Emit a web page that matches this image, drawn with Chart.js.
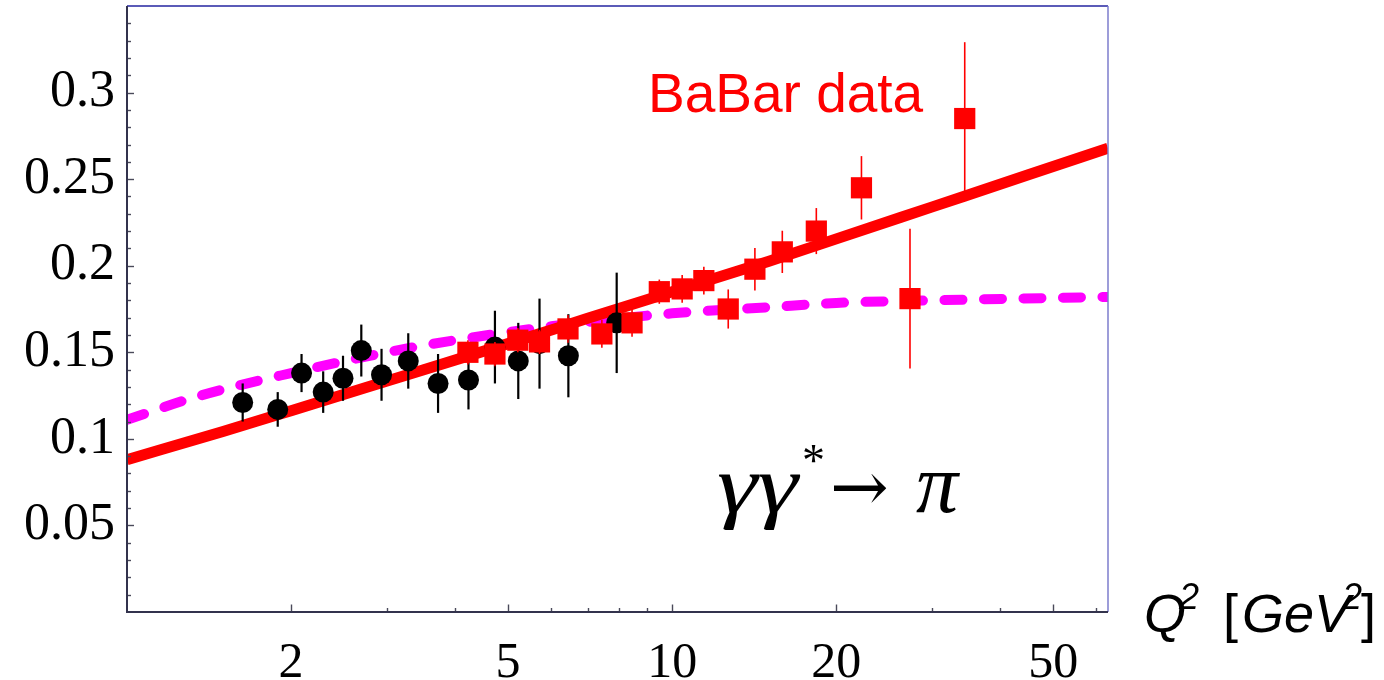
<!DOCTYPE html>
<html>
<head>
<meta charset="utf-8">
<script src="https://cdn.jsdelivr.net/npm/chart.js@4.4.1/dist/chart.umd.min.js"></script>
<style>
  html, body { margin: 0; padding: 0; background: #fff; }
  #wrap { width: 1384px; height: 680px; }
</style>
</head>
<body>
<div id="wrap"><canvas id="grafico" width="1384" height="680"></canvas></div>
<script>
/* ============================
   DATI
============================ */

// CLEO (cerchi neri)
const cleoQ2  = [1.63, 1.89, 2.09, 2.29, 2.49, 2.69, 2.93, 3.28, 3.72, 4.23, 4.73, 5.22, 5.71, 6.45, 7.91];
const cleoVal = [0.121, 0.117, 0.138, 0.127, 0.135, 0.151, 0.137, 0.145, 0.132, 0.134, 0.153, 0.145, 0.155, 0.148, 0.167];
const cleoErr = [0.011, 0.010, 0.011, 0.012, 0.013, 0.015, 0.015, 0.016, 0.017, 0.017, 0.021, 0.022, 0.026, 0.024, 0.029];

// BaBar (quadrati rossi)
const babarQ2  = [4.22, 4.73, 5.21, 5.71, 6.44, 7.43, 8.44, 9.47, 10.43, 11.43, 12.67, 14.18, 15.92, 18.38, 22.24, 27.3, 34.4];
const babarVal = [0.150, 0.149, 0.157, 0.156, 0.1635, 0.1606, 0.167, 0.185, 0.1866, 0.1914, 0.175, 0.198, 0.208, 0.220, 0.245, 0.181, 0.285];
const babarErr = [0.007, 0.007, 0.007, 0.007, 0.008, 0.008, 0.008, 0.007, 0.008, 0.008, 0.0113, 0.0123, 0.0122, 0.0133, 0.0183, 0.0404, 0.0441];

// curva continua rossa
const curvaQ2  = [1, 1.5, 2, 3, 5, 7, 10, 15, 20, 30, 45, 63];
const curvaVal = [0.088, 0.1043, 0.1163, 0.1334, 0.155, 0.1696, 0.185, 0.2025, 0.2155, 0.234, 0.2525, 0.2678];

// curva tratteggiata magenta
const trattQ2  = [1, 1.35, 2, 3, 4, 6, 10, 15, 20, 30, 63];
const trattVal = [0.111, 0.1246, 0.138, 0.150, 0.157, 0.165, 0.1725, 0.176, 0.1785, 0.180, 0.182];

// assi
const xTickMaggiori = [2, 5, 10, 20, 50];
const xTickMinori = [3, 4, 6, 7, 8, 9, 30, 40, 60];
const yTickEtichette = [0.05, 0.1, 0.15, 0.2, 0.25, 0.3];

const punti = (xs, ys) => xs.map((x, i) => ({ x, y: ys[i] }));

const erroriPerSerie = {
  'BaBar': { xs: babarQ2, ys: babarVal, err: babarErr, colore: '#ff0000', spessore: 1.6 },
  'CLEO': { xs: cleoQ2, ys: cleoVal, err: cleoErr, colore: '#000000', spessore: 2.2 }
};

/* ============================
   PLUGIN
============================ */

// barre d'errore, disegnate subito prima dei marker della serie
const barreErrore = {
  id: 'barreErrore',
  beforeDatasetDraw(chart, args) {
    const ds = chart.data.datasets[args.index];
    const e = erroriPerSerie[ds.label];
    if (!e) return;
    const { ctx, scales: { x, y }, chartArea } = chart;
    ctx.save();
    ctx.beginPath();
    ctx.rect(chartArea.left, chartArea.top, chartArea.right - chartArea.left, chartArea.bottom - chartArea.top);
    ctx.clip();
    ctx.strokeStyle = e.colore;
    ctx.lineWidth = e.spessore;
    e.xs.forEach((q, i) => {
      const px = x.getPixelForValue(q);
      ctx.beginPath();
      ctx.moveTo(px, y.getPixelForValue(e.ys[i] - e.err[i]));
      ctx.lineTo(px, y.getPixelForValue(e.ys[i] + e.err[i]));
      ctx.stroke();
    });
    ctx.restore();
  }
};

// cornice e tacche interne
const cornice = {
  id: 'cornice',
  afterDraw(chart) {
    const { ctx, chartArea: a, scales: { x, y } } = chart;
    ctx.save();
    // tacche
    ctx.strokeStyle = '#4a4a5a';
    ctx.lineWidth = 1.4;
    for (let i = 1; i <= 34; i++) {
      const py = Math.round(y.getPixelForValue(i / 100)) + 0.5;
      const len = i % 5 === 0 ? 7 : 4;
      ctx.beginPath();
      ctx.moveTo(a.left, py);
      ctx.lineTo(a.left + len, py);
      ctx.stroke();
    }
    xTickMaggiori.concat(xTickMinori).forEach(v => {
      const px = Math.round(x.getPixelForValue(v)) + 0.5;
      const len = xTickMaggiori.includes(v) ? 7.5 : 4;
      ctx.beginPath();
      ctx.moveTo(px, a.bottom);
      ctx.lineTo(px, a.bottom - len);
      ctx.stroke();
    });
    // bordi
    ctx.lineWidth = 1.5;
    ctx.strokeStyle = '#2424a0';
    ctx.beginPath(); ctx.moveTo(a.left, a.top); ctx.lineTo(a.right, a.top); ctx.stroke();
    ctx.strokeStyle = '#7d7dcc';
    ctx.beginPath(); ctx.moveTo(a.right, a.top); ctx.lineTo(a.right, a.bottom); ctx.stroke();
    ctx.lineWidth = 2;
    ctx.strokeStyle = '#33334d';
    ctx.beginPath();
    ctx.moveTo(a.left, a.top);
    ctx.lineTo(a.left, a.bottom);
    ctx.lineTo(a.right, a.bottom);
    ctx.stroke();
    ctx.restore();
  }
};

// scritte: BaBar data, reazione, titolo asse x
const scritte = {
  id: 'scritte',
  afterDraw(chart) {
    const ctx = chart.ctx;
    ctx.save();
    ctx.textBaseline = 'alphabetic';
    ctx.textAlign = 'left';

    ctx.fillStyle = '#ff0000';
    ctx.font = '55px "Liberation Sans", Arial, sans-serif';
    ctx.fillText('BaBar data', 648, 112);

    ctx.fillStyle = '#000';
    ctx.font = 'italic 82px "Liberation Serif", "Times New Roman", serif';
    ctx.save();
    ctx.translate(717, 512);
    ctx.scale(1.25, 1);
    ctx.fillText('γγ', 0, 0);
    ctx.restore();
    ctx.font = '46px "Liberation Serif", serif';
    ctx.fillText('*', 802, 476);
    ctx.font = '70px "DejaVu Serif", "Liberation Serif", serif';
    ctx.fillText('→', 830, 511);
    ctx.font = 'italic 84px "Liberation Serif", "Times New Roman", serif';
    ctx.fillText('π', 916, 512);

    const it = 'italic 54px "Liberation Sans", Arial, sans-serif';
    const sup = 'italic 36px "Liberation Sans", Arial, sans-serif';
    ctx.font = it;
    ctx.fillText('Q', 1144, 632);
    ctx.font = sup;
    ctx.fillText('2', 1179, 609);
    ctx.font = '54px "Liberation Sans", Arial, sans-serif';
    ctx.fillText('[', 1223, 632);
    ctx.font = it;
    ctx.fillText('GeV', 1242, 632);
    ctx.font = sup;
    ctx.fillText('2', 1342, 609);
    ctx.font = '54px "Liberation Sans", Arial, sans-serif';
    ctx.fillText(']', 1361, 632);
    ctx.restore();
  }
};

/* ============================
   GRAFICO
============================ */

const fontTickY = { family: '"Liberation Serif", "Times New Roman", serif', size: 52 };
const fontTickX = { family: '"Liberation Serif", "Times New Roman", serif', size: 50 };

const senzaPadding = s => {
  s.paddingTop = 0;
  s.paddingBottom = 0;
  s.paddingLeft = 0;
  s.paddingRight = 0;
};

new Chart(document.getElementById('grafico'), {
  type: 'scatter',
  data: {
    datasets: [
      {
        label: 'BaBar',
        data: punti(babarQ2, babarVal),
        pointStyle: 'rect',
        pointRadius: 15,
        backgroundColor: '#ff0000',
        borderWidth: 0
      },
      {
        label: 'CLEO',
        data: punti(cleoQ2, cleoVal),
        pointStyle: 'circle',
        pointRadius: 10.5,
        backgroundColor: '#000000',
        borderWidth: 0
      },
      {
        label: 'curva',
        type: 'line',
        data: punti(curvaQ2, curvaVal),
        borderColor: '#ff0000',
        borderWidth: 11,
        pointRadius: 0,
        cubicInterpolationMode: 'monotone',
        fill: false
      },
      {
        label: 'tratteggio',
        type: 'line',
        data: punti(trattQ2, trattVal),
        borderColor: '#ff00ff',
        borderWidth: 10,
        borderDash: [18, 21.5],
        borderCapStyle: 'round',
        pointRadius: 0,
        cubicInterpolationMode: 'monotone',
        fill: false
      }
    ]
  },
  options: {
    responsive: false,
    animation: false,
    events: [],
    layout: { autoPadding: false, padding: { top: 6, right: 276, left: 0, bottom: 0 } },
    plugins: { legend: { display: false }, tooltip: { enabled: false } },
    scales: {
      x: {
        type: 'logarithmic',
        min: 1,
        max: 63,
        grid: { display: false, drawTicks: false },
        border: { display: false },
        afterBuildTicks: s => { s.ticks = xTickMaggiori.map(v => ({ value: v })); },
        afterFit: s => { s.height = 68; senzaPadding(s); },
        ticks: {
          font: fontTickX,
          color: '#000',
          padding: 22,
          autoSkip: false,
          maxRotation: 0,
          callback: v => String(v)
        }
      },
      y: {
        min: 0,
        max: 0.35,
        grid: { display: false, drawTicks: false },
        border: { display: false },
        afterBuildTicks: s => { s.ticks = yTickEtichette.map(v => ({ value: v })); },
        afterFit: s => { s.width = 127; senzaPadding(s); },
        ticks: {
          font: fontTickY,
          color: '#000',
          padding: 12,
          callback: v => String(v)
        }
      }
    }
  },
  plugins: [barreErrore, cornice, scritte]
});
</script>
</body>
</html>
